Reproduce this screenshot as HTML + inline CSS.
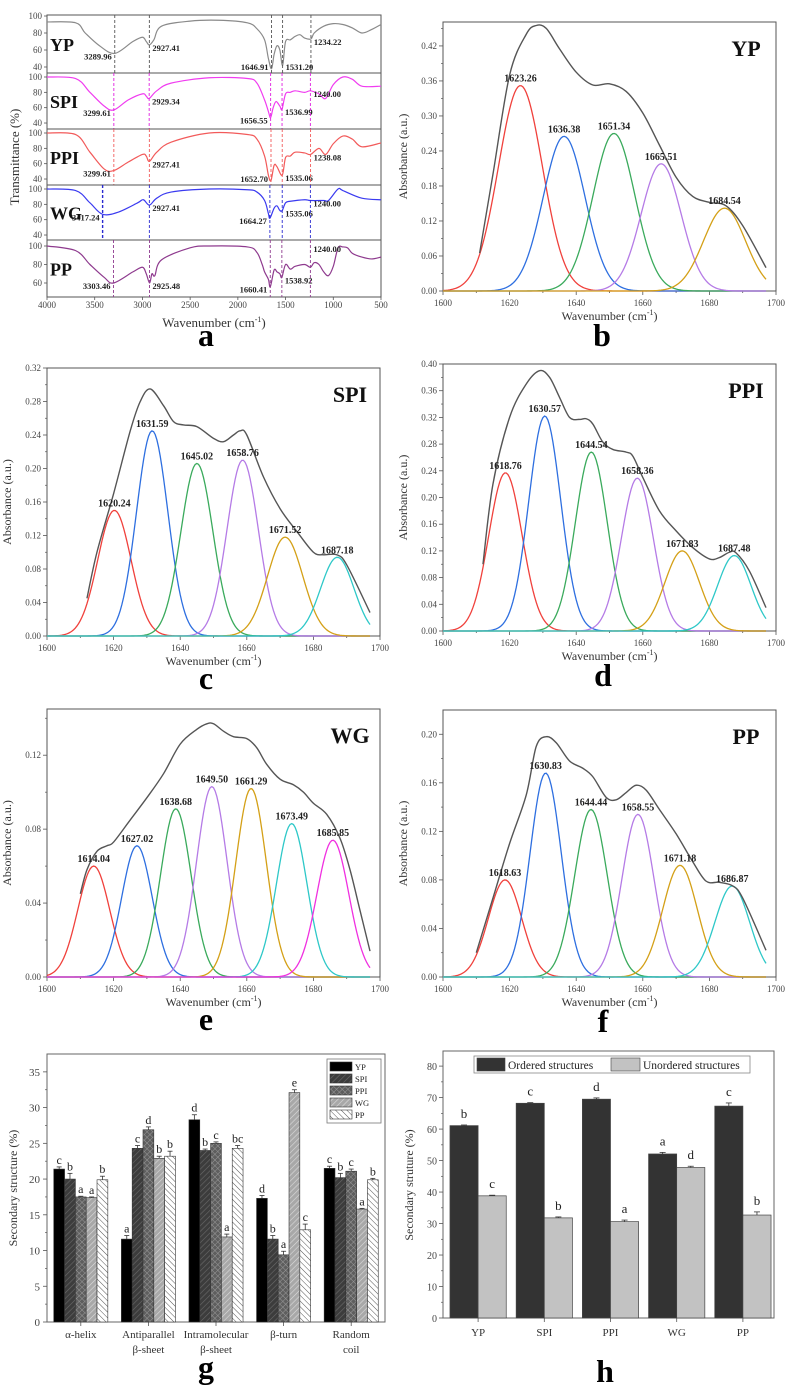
<!DOCTYPE html>
<html><head><meta charset="utf-8">
<style>
html,body{margin:0;padding:0;background:#fff;}
svg{display:block;}
</style></head>
<body>
<svg id="fig" xmlns="http://www.w3.org/2000/svg" width="790" height="1388" viewBox="0 0 790 1388">
<defs>
<pattern id="patSPI" patternUnits="userSpaceOnUse" width="4" height="4" patternTransform="rotate(45)"><rect width="4" height="4" fill="#3c3c3c"/><line x1="0" y1="0" x2="0" y2="4" stroke="#6a6a6a" stroke-width="1.2"/></pattern>
<pattern id="patPPI" patternUnits="userSpaceOnUse" width="4" height="4" patternTransform="rotate(45)"><rect width="4" height="4" fill="#5e5e5e"/><line x1="0" y1="0" x2="0" y2="4" stroke="#9a9a9a" stroke-width="1"/><line x1="0" y1="0" x2="4" y2="0" stroke="#9a9a9a" stroke-width="1"/></pattern>
<pattern id="patWG" patternUnits="userSpaceOnUse" width="4" height="4" patternTransform="rotate(45)"><rect width="4" height="4" fill="#a8a8a8"/><line x1="0" y1="0" x2="0" y2="4" stroke="#dcdcdc" stroke-width="1.2"/></pattern>
<pattern id="patPP" patternUnits="userSpaceOnUse" width="4" height="4" patternTransform="rotate(-45)"><rect width="4" height="4" fill="#ffffff"/><line x1="0" y1="0" x2="0" y2="4" stroke="#555" stroke-width="1"/></pattern>
</defs>
</svg>
<script>
// ===== Panel a data (FTIR spectra) =====
const ypIrW = [4000,3700,3600,3450,3290,3100,3000,2960,2927,2880,2800,2500,2200,1900,1800,1720,1680,1647,1620,1590,1560,1531,1500,1450,1400,1350,1300,1234,1200,1100,1000,900,800,700,600,500];
const ypIrT = [93,92,80,65,56,70,75,70,66,72,88,94,95,92,85,72,50,38,55,65,60,42,70,72,76,78,74,73,80,88,91,90,86,80,84,90];
const spiIrW = [4000,3700,3550,3400,3300,3150,3000,2960,2929,2850,2700,2300,1900,1800,1720,1680,1657,1630,1600,1560,1537,1500,1450,1400,1300,1240,1150,1080,1000,900,800,700,500];
const spiIrT = [100,98,80,62,57,70,78,75,72,82,92,99,98,92,70,55,47,60,68,62,58,78,80,82,80,82,78,72,90,100,97,88,88];
const ppiIrW = [4000,3700,3550,3400,3300,3150,3000,2960,2927,2850,2700,2300,1900,1800,1720,1680,1653,1620,1590,1535,1500,1450,1400,1300,1238,1150,1080,1000,900,800,700,500];
const ppiIrT = [100,98,75,53,51,62,72,70,63,75,88,100,98,92,70,45,38,58,56,45,68,70,75,74,72,80,72,86,96,92,82,87];
const wgIrW = [4000,3700,3550,3417,3250,3050,2990,2927,2850,2700,2300,1900,1800,1720,1680,1664,1620,1590,1560,1535,1500,1450,1300,1240,1100,1050,950,900,700,500];
const wgIrT = [100,98,82,67,70,82,86,79,88,96,100,99,96,85,68,62,75,78,72,72,82,84,86,85,85,85,100,98,88,86];
const ppIrW = [4000,3700,3550,3400,3303,3100,3000,2960,2925,2900,2870,2800,2500,2300,1900,1800,1745,1720,1680,1660,1620,1590,1560,1539,1500,1450,1400,1300,1240,1200,1150,1100,1050,1000,950,900,850,800,700,600,500];
const ppIrT = [100,95,80,66,60,72,77,70,60,70,68,85,98,100,99,93,80,72,64,56,74,72,70,66,80,75,78,80,77,82,80,72,68,78,98,99,98,92,88,86,88];
const ypIrPeaks = [3289.96,2927.41,1646.91,1531.20,1234.22];
const spiIrPeaks = [3299.61,2929.34,1656.55,1536.99,1240.00];
const ppiIrPeaks = [3299.61,2927.41,1652.70,1535.06,1238.08];
const wgIrPeaks = [3417.24,2927.41,1664.27,1535.06,1240.00];
const ppIrPeaks = [3303.46,2925.48,1660.41,1538.92,1240.00];
const irTickLabels = [4000,3500,3000,2500,2000,1500,1000,500];

// ===== Peak-fitting panels data =====
const ypCenters = [1623.26,1636.38,1651.34,1665.51,1684.54];
const ypHeights = [0.352,0.265,0.270,0.218,0.142];
const ypSigmas = [6.6,6.3,6.3,6.0,6.3];
const ypEnvX = [1611,1615,1620,1625,1628,1631,1635,1640,1645,1650,1655,1660,1665,1670,1675,1680,1685,1690,1697];
const ypEnvY = [0.065,0.2,0.37,0.44,0.455,0.45,0.415,0.375,0.353,0.355,0.342,0.305,0.25,0.195,0.162,0.152,0.146,0.112,0.04];

const spiCenters = [1620.24,1631.59,1645.02,1658.76,1671.52,1687.18];
const spiHeights = [0.150,0.245,0.206,0.210,0.118,0.094];
const spiSigmas = [5.0,4.7,4.8,4.7,5.3,5.0];
const spiEnvX = [1612,1615,1620,1625,1628,1631,1635,1638,1641,1645,1650,1653,1656,1658,1660,1665,1670,1675,1680,1683,1687,1690,1697];
const spiEnvY = [0.045,0.1,0.17,0.245,0.28,0.295,0.275,0.256,0.252,0.25,0.236,0.232,0.24,0.245,0.24,0.19,0.152,0.125,0.10,0.097,0.097,0.085,0.028];

const ppiCenters = [1618.76,1630.57,1644.54,1658.36,1671.83,1687.48];
const ppiHeights = [0.237,0.322,0.268,0.229,0.120,0.113];
const ppiSigmas = [5.0,4.8,4.8,4.8,5.2,5.0];
const ppiEnvX = [1612,1615,1620,1625,1629,1632,1635,1638,1641,1643,1645,1648,1651,1655,1657,1660,1665,1670,1675,1680,1683,1686,1688,1692,1697];
const ppiEnvY = [0.10,0.22,0.32,0.37,0.39,0.38,0.35,0.32,0.317,0.318,0.31,0.283,0.272,0.268,0.262,0.23,0.18,0.15,0.125,0.108,0.11,0.118,0.117,0.09,0.035];

const wgCenters = [1614.04,1627.02,1638.68,1649.50,1661.29,1673.49,1685.85];
const wgHeights = [0.060,0.071,0.091,0.103,0.102,0.083,0.074];
const wgSigmas = [4.8,4.6,4.6,4.6,4.6,4.6,4.8];
const wgEnvX = [1610,1612,1615,1618,1620,1625,1630,1635,1640,1645,1648,1650,1653,1656,1660,1663,1666,1670,1674,1677,1680,1684,1688,1691,1694,1697];
const wgEnvY = [0.045,0.058,0.068,0.071,0.073,0.085,0.097,0.110,0.126,0.134,0.137,0.137,0.133,0.130,0.129,0.124,0.115,0.107,0.104,0.100,0.094,0.088,0.075,0.058,0.036,0.014];

const ppCenters = [1618.63,1630.83,1644.44,1658.55,1671.18,1686.87];
const ppHeights = [0.080,0.168,0.138,0.134,0.092,0.075];
const ppSigmas = [5.0,4.7,4.9,4.8,5.2,5.2];
const ppEnvX = [1610,1615,1620,1625,1628,1631,1634,1638,1642,1645,1649,1652,1655,1658,1661,1665,1670,1675,1679,1683,1687,1690,1697];
const ppEnvY = [0.02,0.065,0.11,0.15,0.19,0.198,0.193,0.178,0.172,0.165,0.148,0.146,0.152,0.158,0.154,0.138,0.118,0.095,0.079,0.078,0.075,0.065,0.022];

// ===== Panel g data =====
const gCatsLine1 = ['α-helix','Antiparallel','Intramolecular','β-turn','Random'];
const gCatsLine2 = ['','β-sheet','β-sheet','','coil'];
const gSeries = ['YP','SPI','PPI','WG','PP'];
const gYP = [21.4,11.6,28.3,17.3,21.5];
const gSPI = [20.0,24.3,24.0,11.6,20.2];
const gPPI = [17.5,26.9,25.0,9.4,21.1];
const gWG = [17.4,22.9,11.9,32.1,15.8];
const gPP = [19.9,23.2,24.3,12.9,19.9];
const gErrYP = [0.3,0.5,0.7,0.4,0.3];
const gErrSPI = [0.8,0.4,0.2,0.5,0.6];
const gErrPPI = [0.1,0.4,0.2,0.5,0.3];
const gErrWG = [0.1,0.3,0.4,0.4,0.1];
const gErrPP = [0.5,0.7,0.4,0.8,0.2];
const gLetYP = ['c','a','d','d','c'];
const gLetSPI = ['b','c','b','b','b'];
const gLetPPI = ['a','d','c','a','c'];
const gLetWG = ['a','b','a','e','a'];
const gLetPP = ['b','b','bc','c','b'];
const gTicks = [0,5,10,15,20,25,30,35];

// ===== Panel h data =====
const hCats = ['YP','SPI','PPI','WG','PP'];
const hOrdered = [61.1,68.2,69.5,52.1,67.3];
const hUnordered = [38.8,31.8,30.6,47.8,32.7];
const hErrOrd = [0.2,0.2,0.4,0.5,1.0];
const hErrUnord = [0.2,0.3,0.5,0.4,1.0];
const hLetOrd = ['b','c','d','a','c'];
const hLetUnord = ['c','b','a','d','b'];
const hTicks = [0,10,20,30,40,50,60,70,80];

// ===== helpers =====
const NS='http://www.w3.org/2000/svg';
const svg=document.getElementById('fig');
const FONT='"Liberation Serif", serif';
function mk(tag, attrs, parent){const e=document.createElementNS(NS,tag);for(const k in attrs)e.setAttribute(k,attrs[k]);(parent||svg).appendChild(e);return e;}
function txt(name,x,y,s,opts,parent){
  const t=mk('text',Object.assign({x:x,y:y,'font-family':FONT,'font-size':10,fill:'#222'},opts||{}),parent);
  t.textContent=s;
  
  
  return t;
}
function ln(name,x1,y1,x2,y2,stroke,w,extra,parent){
  const l=mk('line',Object.assign({x1:x1,y1:y1,x2:x2,y2:y2,stroke:stroke,'stroke-width':w},extra||{}),parent);
  
  
  return l;
}
function grp(name){
  const g=mk('g',{});
  
  
  return g;
}
function smooth(pts){
  let d='M'+pts[0][0].toFixed(2)+','+pts[0][1].toFixed(2);
  for(let i=0;i<pts.length-1;i++){
    const p0=pts[Math.max(0,i-1)],p1=pts[i],p2=pts[i+1],p3=pts[Math.min(pts.length-1,i+2)];
    const c1=[p1[0]+(p2[0]-p0[0])/6,p1[1]+(p2[1]-p0[1])/6];
    const c2=[p2[0]-(p3[0]-p1[0])/6,p2[1]-(p3[1]-p1[1])/6];
    d+='C'+c1[0].toFixed(2)+','+c1[1].toFixed(2)+' '+c2[0].toFixed(2)+','+c2[1].toFixed(2)+' '+p2[0].toFixed(2)+','+p2[1].toFixed(2);
  }
  return d;
}
function letter(name,x,y,s){txt(name,x,y,s,{'font-size':32,'font-weight':'bold','text-anchor':'middle',fill:'#000'});}

// ===== Panel a =====
(function(){
  const g=grp('panel-a-ftir');
  const x0=47,x1=381;
  const X=w=>x0+(4000-w)/3500*(x1-x0);
  const subs=[
    {name:'yp',label:'YP',W:ypIrW,T:ypIrT,P:ypIrPeaks,top:15,bot:73,y100:16,k:0.85,ticks:[40,60,80,100],col:'#8a8a8a',dash:'#555',side:['L','R','L','R','R']},
    {name:'spi',label:'SPI',W:spiIrW,T:spiIrT,P:spiIrPeaks,top:73,bot:129,y100:77,k:0.767,ticks:[40,60,80,100],col:'#f03cf0',dash:'#e020e0',side:['L','R','L','R','R']},
    {name:'ppi',label:'PPI',W:ppiIrW,T:ppiIrT,P:ppiIrPeaks,top:129,bot:185,y100:133,k:0.767,ticks:[40,60,80,100],col:'#f25a5a',dash:'#f25a5a',side:['L','R','L','R','R']},
    {name:'wg',label:'WG',W:wgIrW,T:wgIrT,P:wgIrPeaks,top:185,bot:240,y100:189,k:0.767,ticks:[40,60,80,100],col:'#3a3af0',dash:'#2a2ad0',side:['L','R','L','R','R']},
    {name:'pp',label:'PP',W:ppIrW,T:ppIrT,P:ppIrPeaks,top:240,bot:297,y100:246,k:0.925,ticks:[60,80,100],col:'#8e3a8e',dash:'#8e3a8e',side:['L','R','L','R','R']}
  ];
  subs.forEach((s,si)=>{
    const Y=t=>s.y100+(100-t)*s.k;
    const frame=mk('rect',{x:x0,y:s.top,width:x1-x0,height:s.bot-s.top,fill:'none',stroke:'#555','stroke-width':1},g);
    
    
    s.ticks.forEach(t=>{
      ln('ftir-ytick-'+s.name,x0-3,Y(t),x0,Y(t),'#555',0.8,null,g);
      txt('ftir-ytick-label-'+s.name,x0-5,Y(t)+3,String(t),{'font-size':9,'text-anchor':'end',fill:'#444'},g);
    });
    const pts=s.W.map((w,i)=>[X(w),Y(s.T[i])]);
    const path=mk('path',{d:smooth(pts),fill:'none',stroke:s.col,'stroke-width':1.2},g);
    
    
    s.P.forEach((p,pi)=>{
      const px=X(p);
      ln('ftir-peak-line-'+s.name,px,s.top,px,s.bot,s.dash,(s.name==='wg'&&pi===0)?1.4:0.9,{'stroke-dasharray':'3,2'},g);
      let best=0;for(let i=0;i<s.W.length;i++){if(Math.abs(s.W[i]-p)<Math.abs(s.W[best]-p))best=i;}
      let ly=Math.min(Y(s.T[best])+6,s.bot-3);
      if(s.name==='pp'&&pi===4) ly=s.top+12;
      const L=s.side[pi]==='L';
      txt('ftir-peak-label-'+s.name,L?px-3:px+3,ly,p.toFixed(2),{'font-size':8.5,'font-weight':'bold','text-anchor':L?'end':'start',fill:'#222'},g);
    });
    txt('ftir-sample-label-'+s.name,x0+3,s.top+(s.bot-s.top)/2+7,s.label,{'font-size':18,'font-weight':'bold',fill:'#111'},g);
  });
  irTickLabels.forEach(w=>{
    ln('ftir-xtick',X(w),297,X(w),300,'#555',0.8,null,g);
    txt('ftir-xtick-label',X(w),308,String(w),{'font-size':9,'text-anchor':'middle',fill:'#444'},g);
  });
  const xt=txt('ftir-x-axis-title',214,327,'Wavenumber (cm',{'font-size':13,'text-anchor':'middle',fill:'#333'},g);
  const sup=mk('tspan',{dy:-5,'font-size':8},xt);sup.textContent='-1';
  const cl=mk('tspan',{dy:5},xt);cl.textContent=')';
  txt('ftir-y-axis-title',0,0,'Transmittance (%)',{'font-size':13,'text-anchor':'middle',fill:'#333',transform:'translate(19,157) rotate(-90)'},g);
  letter('panel-a-letter',206,346,'a');
})();

// ===== Peak panels =====
const colsAll=['#f0413c','#2e6fe0','#3aaa5c','#b57be6','#d4a017','#2ec8c8','#f030e0'];
function peakPanel(name,p,centers,heights,sigmas,envX,envY,title,let_,letX,letY){
  const g=grp(name);
  const X=v=>p.x0+(v-1600)/100*(p.x1-p.x0);
  const Y=v=>p.zero-v/p.ymax*(p.zero-p.top);
  const fr=mk('rect',{x:p.x0,y:p.top,width:p.x1-p.x0,height:p.zero-p.top,fill:'none',stroke:'#555','stroke-width':1},g);
  
  
  const n=Math.round(p.tmax/p.step);
  for(let i=0;i<=n;i++){
    const v=i*p.step;
    ln(name+'-ytick',p.x0-4,Y(v),p.x0,Y(v),'#555',0.8,null,g);
    txt(name+'-ytick-label',p.x0-6,Y(v)+3,v.toFixed(2),{'font-size':9,'text-anchor':'end',fill:'#444'},g);
    const m=v+p.step/2; if(Y(m)>p.top) ln(name+'-ytick-minor',p.x0-2,Y(m),p.x0,Y(m),'#555',0.7,null,g);
  }
  for(let v=1600;v<=1700;v+=10){
    const major=(v%20===0);
    ln(name+'-xtick',X(v),p.zero,X(v),p.zero+(major?4:2),'#555',0.8,null,g);
    if(major) txt(name+'-xtick-label',X(v),p.zero+15,String(v),{'font-size':9,'text-anchor':'middle',fill:'#444'},g);
  }
  centers.forEach((c,i)=>{
    const pts=[];
    for(let w=1600;w<=1697.01;w+=0.5){pts.push([X(w),Y(heights[i]*Math.exp(-((w-c)*(w-c))/(2*sigmas[i]*sigmas[i])))]);}
    const path=mk('path',{d:'M'+pts.map(q=>q[0].toFixed(2)+','+q[1].toFixed(2)).join('L'),fill:'none',stroke:colsAll[i],'stroke-width':1.3},g);
    
    
  });
  const env=mk('path',{d:smooth(envX.map((x,i)=>[X(x),Y(envY[i])])),fill:'none',stroke:'#555','stroke-width':1.4},g);
  
  
  centers.forEach((c,i)=>{
    txt(name+'-peak-label',X(c),Y(heights[i])-4,c.toFixed(2),{'font-size':10,'font-weight':'bold','text-anchor':'middle',fill:'#222'},g);
  });
  txt(name+'-title',p.x1-30,p.top+34,title,{'font-size':22,'font-weight':'bold','text-anchor':'middle',fill:'#111'},g);
  const cx=(p.x0+p.x1)/2;
  const xt=txt(name+'-x-axis-title',cx,p.zero+29,'Wavenumber (cm',{'font-size':12,'text-anchor':'middle',fill:'#333'},g);
  const sup=mk('tspan',{dy:-5,'font-size':8},xt);sup.textContent='-1';
  const cl=mk('tspan',{dy:5},xt);cl.textContent=')';
  txt(name+'-y-axis-title',0,0,'Absorbance (a.u.)',{'font-size':12,'text-anchor':'middle',fill:'#333',transform:'translate('+(p.x0-36)+','+((p.top+p.zero)/2)+') rotate(-90)'},g);
  letter(name+'-letter',letX,letY,let_);
}
peakPanel('panel-b-yp',{x0:443,x1:776,top:22,zero:291,ymax:0.461,step:0.06,tmax:0.42},ypCenters,ypHeights,ypSigmas,ypEnvX,ypEnvY,'YP','b',602,346);
peakPanel('panel-c-spi',{x0:47,x1:380,top:368,zero:636,ymax:0.32,step:0.04,tmax:0.32},spiCenters,spiHeights,spiSigmas,spiEnvX,spiEnvY,'SPI','c',206,689);
peakPanel('panel-d-ppi',{x0:443,x1:776,top:364,zero:631,ymax:0.40,step:0.04,tmax:0.40},ppiCenters,ppiHeights,ppiSigmas,ppiEnvX,ppiEnvY,'PPI','d',603,686);
peakPanel('panel-e-wg',{x0:47,x1:380,top:709,zero:977,ymax:0.145,step:0.04,tmax:0.12},wgCenters,wgHeights,wgSigmas,wgEnvX,wgEnvY,'WG','e',206,1030);
peakPanel('panel-f-pp',{x0:443,x1:776,top:710,zero:977,ymax:0.22,step:0.04,tmax:0.20},ppCenters,ppHeights,ppSigmas,ppEnvX,ppEnvY,'PP','f',603,1032);

// ===== Panel g =====
(function(){
  const g=grp('panel-g-secondary-structure');
  const x0=47,x1=385,top=1054,zero=1322,ymax=37.5;
  const Y=v=>zero-v/ymax*(zero-top);
  const band=(x1-x0)/gCatsLine1.length;
  const bw=band*0.8/5;
  const vals=[gYP,gSPI,gPPI,gWG,gPP];
  const errs=[gErrYP,gErrSPI,gErrPPI,gErrWG,gErrPP];
  const lets=[gLetYP,gLetSPI,gLetPPI,gLetWG,gLetPP];
  const fills=['#000','url(#patSPI)','url(#patPPI)','url(#patWG)','url(#patPP)'];
  const fr=mk('rect',{x:x0,y:top,width:x1-x0,height:zero-top,fill:'none',stroke:'#666','stroke-width':1},g);
  
  
  gTicks.forEach(t=>{
    ln('g-ytick',x0-4,Y(t),x0,Y(t),'#555',0.8,null,g);
    txt('g-ytick-label',x0-7,Y(t)+4,String(t),{'font-size':11,'text-anchor':'end',fill:'#444'},g);
    if(t+2.5<ymax) ln('g-ytick-minor',x0-2,Y(t+2.5),x0,Y(t+2.5),'#555',0.7,null,g);
  });
  gCatsLine1.forEach((c,ci)=>{
    const cx=x0+band*(ci+0.5);
    ln('g-xtick',cx,zero,cx,zero+4,'#555',0.8,null,g);
    txt('g-category-label',cx,zero+16,c,{'font-size':11,'text-anchor':'middle',fill:'#333'},g);
    if(gCatsLine2[ci]) txt('g-category-label-line2',cx,zero+31,gCatsLine2[ci],{'font-size':11,'text-anchor':'middle',fill:'#333'},g);
    for(let s=0;s<5;s++){
      const v=vals[s][ci];
      const bx=cx-2.5*bw+s*bw;
      const r=mk('rect',{x:bx,y:Y(v),width:bw,height:zero-Y(v),fill:fills[s],stroke:'#333','stroke-width':0.6},g);
      
      
      const e=errs[s][ci];
      ln('g-error-bar',bx+bw/2,Y(v+e),bx+bw/2,Y(v),'#333',0.8,null,g);
      ln('g-error-cap',bx+bw/2-2.5,Y(v+e),bx+bw/2+2.5,Y(v+e),'#333',0.8,null,g);
      txt('g-significance-letter',bx+bw/2,Y(v+e)-3,lets[s][ci],{'font-size':12,'text-anchor':'middle',fill:'#222'},g);
    }
  });
  const lg=grp('g-legend');
  const lb=mk('rect',{x:327,y:1059,width:54,height:64,fill:'#fff',stroke:'#777','stroke-width':0.8},lg);
  
  
  gSeries.forEach((s,i)=>{
    const y=1062+i*12;
    const sw=mk('rect',{x:330,y:y,width:22,height:9,fill:fills[i],stroke:'#333','stroke-width':0.6},lg);
    
    
    txt('g-legend-label',355,y+8,s,{'font-size':8.5,fill:'#222'},lg);
  });
  txt('g-y-axis-title',0,0,'Secondary structure (%)',{'font-size':12,'text-anchor':'middle',fill:'#333',transform:'translate(17,1188) rotate(-90)'},g);
  letter('panel-g-letter',206,1378,'g');
})();

// ===== Panel h =====
(function(){
  const g=grp('panel-h-ordered-unordered');
  const x0=443,x1=774,top=1051,zero=1318,ymax=84.8;
  const Y=v=>zero-v/ymax*(zero-top);
  const band=(x1-x0)/hCats.length;
  const bw=band*0.425;
  const fr=mk('rect',{x:x0,y:top,width:x1-x0,height:zero-top,fill:'none',stroke:'#666','stroke-width':1},g);
  
  
  hTicks.forEach(t=>{
    ln('h-ytick',x0-4,Y(t),x0,Y(t),'#555',0.8,null,g);
    txt('h-ytick-label',x0-6,Y(t)+4,String(t),{'font-size':10,'text-anchor':'end',fill:'#444'},g);
    if(t+5<ymax) ln('h-ytick-minor',x0-2,Y(t+5),x0,Y(t+5),'#555',0.7,null,g);
  });
  hCats.forEach((c,ci)=>{
    const cx=x0+band*(ci+0.5)+2;
    ln('h-xtick',cx,zero,cx,zero+4,'#555',0.8,null,g);
    txt('h-category-label',cx,zero+18,c,{'font-size':11,'text-anchor':'middle',fill:'#333'},g);
    const sets=[[hOrdered,hErrOrd,hLetOrd,'#333','ordered',cx-bw],[hUnordered,hErrUnord,hLetUnord,'#c2c2c2','unordered',cx]];
    sets.forEach(st=>{
      const v=st[0][ci],e=st[1][ci],bx=st[5];
      const r=mk('rect',{x:bx,y:Y(v),width:bw,height:zero-Y(v),fill:st[3],stroke:'#444','stroke-width':0.7},g);
      
      
      ln('h-error-bar',bx+bw/2,Y(v+e),bx+bw/2,Y(v),'#333',0.8,null,g);
      ln('h-error-cap',bx+bw/2-3,Y(v+e),bx+bw/2+3,Y(v+e),'#333',0.8,null,g);
      txt('h-significance-letter',bx+bw/2,Y(v+e)-7,st[2][ci],{'font-size':13,'text-anchor':'middle',fill:'#222'},g);
    });
  });
  const lg=grp('h-legend');
  const lb=mk('rect',{x:474,y:1056,width:276,height:17,fill:'#fff',stroke:'#888','stroke-width':0.8},lg);
  
  
  const s1=mk('rect',{x:477,y:1058,width:28,height:13,fill:'#333',stroke:'#444','stroke-width':0.6},lg);
  
  
  txt('h-legend-label-ordered',508,1069,'Ordered  structures',{'font-size':11.5,fill:'#222','xml:space':'preserve'},lg);
  const s2=mk('rect',{x:611,y:1058,width:29,height:13,fill:'#c2c2c2',stroke:'#444','stroke-width':0.6},lg);
  
  
  txt('h-legend-label-unordered',643,1069,'Unordered structures',{'font-size':11.5,fill:'#222'},lg);
  txt('h-y-axis-title',0,0,'Secondary struture (%)',{'font-size':12,'text-anchor':'middle',fill:'#333',transform:'translate(413,1185) rotate(-90)'},g);
  letter('panel-h-letter',605,1382,'h');
})();
</script>
</body></html>
